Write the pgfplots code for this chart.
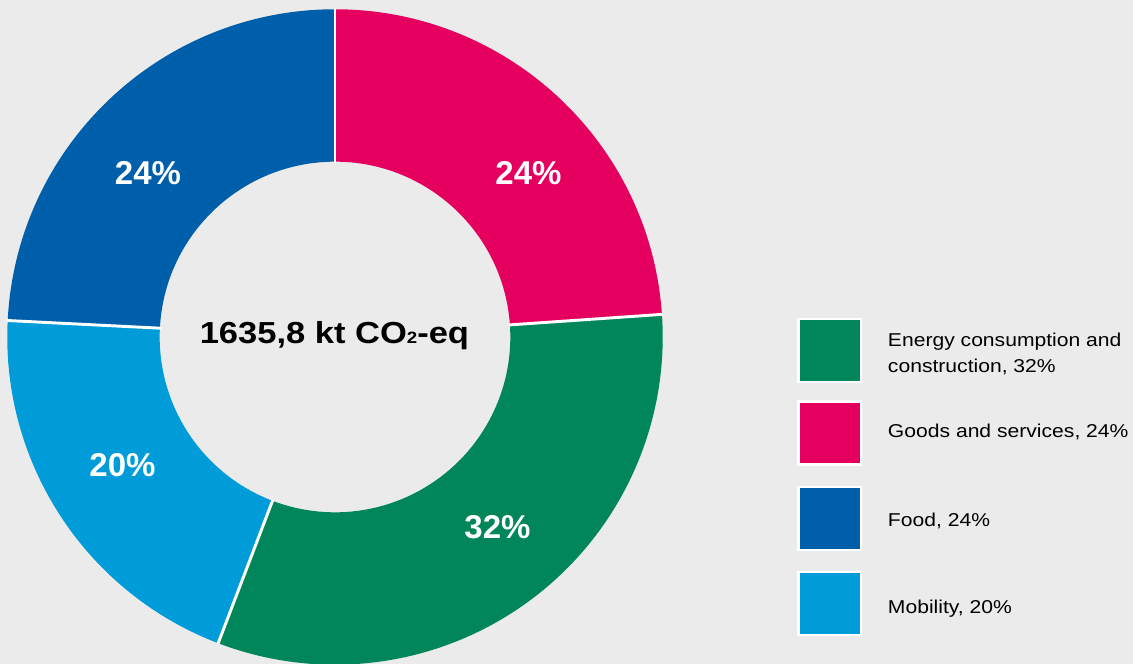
\documentclass[border=0pt]{standalone}
\usepackage{fontspec}
\setmainfont{Liberation Sans}
\newfontfamily\widefont{Liberation Sans}[FakeStretch=1.135]
\usepackage{pgfplots}
\pgfplotsset{compat=1.18}
\usepackage{pgfplotstable}
\usetikzlibrary{calc}
\definecolor{bgcol}{RGB}{235,235,235}
\definecolor{cGreen}{RGB}{0,134,90}
\definecolor{cPink}{RGB}{229,0,95}
\definecolor{cDark}{RGB}{0,95,170}
\definecolor{cLight}{RGB}{0,156,217}

% slices clockwise from 12 o'clock (shares in %)
\pgfplotstableread{
value color
23.9 cPink
31.9 cGreen
20.0 cLight
24.2 cDark
}\slices

\def\Ro{245.8pt}
\def\Ri{131.5pt}

\begin{document}
\begin{tikzpicture}
\begin{axis}[x=0.75pt,y=0.75pt,xmin=0,xmax=1133,ymin=0,ymax=664,
  hide axis, clip=true]
\fill[bgcol] (axis cs:0,0) rectangle (axis cs:1133,664);
\def\startang{90}
\pgfplotsforeachungrouped \i in {0,...,3}{%
  \pgfplotstablegetelem{\i}{value}\of\slices \let\v\pgfplotsretval
  \pgfplotstablegetelem{\i}{color}\of\slices \let\c\pgfplotsretval
  \pgfmathsetmacro\endang{\startang-3.6*\v}%
  \edef\temp{\noexpand\fill[\c] ($(axis cs:335,327)+(\startang:\Ro)$) arc[start angle=\startang, end angle=\endang, radius=\Ro] -- ($(axis cs:335,327)+(\endang:\Ri)$) arc[start angle=\endang, end angle=\startang, radius=\Ri] -- cycle;}%
  \temp
  \let\startang\endang
}
\def\startang{90}
\pgfplotsforeachungrouped \i in {0,...,3}{%
  \pgfplotstablegetelem{\i}{value}\of\slices \let\v\pgfplotsretval
  \edef\temp{\noexpand\draw[white, line width=2.2pt] ($(axis cs:335,327)+(\startang:\Ri-1pt)$) -- ($(axis cs:335,327)+(\startang:\Ro+1pt)$);}%
  \temp
  \pgfmathsetmacro\endang{\startang-3.6*\v}%
  \let\startang\endang
}
% slice labels
\node[anchor=base, text=white, font=\fontsize{24.75pt}{26pt}\selectfont\bfseries] at (axis cs:148,479.7) {24\%};
\node[anchor=base, text=white, font=\fontsize{24.75pt}{26pt}\selectfont\bfseries] at (axis cs:528.5,479.7) {24\%};
\node[anchor=base, text=white, font=\fontsize{24.75pt}{26pt}\selectfont\bfseries] at (axis cs:122.5,187) {20\%};
\node[anchor=base, text=white, font=\fontsize{24.75pt}{26pt}\selectfont\bfseries] at (axis cs:497.5,125) {32\%};
% centre label
\node[anchor=base, text=black, font=\widefont\fontsize{22.8pt}{24pt}\selectfont\bfseries, inner sep=0pt] at (axis cs:334.4,320.7) {1635,8 kt CO{\fontsize{12.3pt}{12pt}\selectfont 2}-eq};
% legend
\draw[fill=cGreen, draw=white, line width=1.8pt] (axis cs:798.5,282) rectangle (axis cs:861,345);
\draw[fill=cPink, draw=white, line width=1.8pt] (axis cs:798.5,199.5) rectangle (axis cs:861,262.5);
\draw[fill=cDark, draw=white, line width=1.8pt] (axis cs:798.5,114) rectangle (axis cs:861,177);
\draw[fill=cLight, draw=white, line width=1.8pt] (axis cs:798.5,29) rectangle (axis cs:861,92);
\tikzset{legtext/.style={anchor=base west, inner sep=0pt, text=black, font=\widefont\fontsize{13.95pt}{15pt}\selectfont}}
\node[legtext] at (axis cs:887.7,317) {Energy consumption and};
\node[legtext] at (axis cs:887.7,291) {construction, 32\%};
\node[legtext] at (axis cs:887.7,226) {Goods and services, 24\%};
\node[legtext] at (axis cs:887.7,137) {Food, 24\%};
\node[legtext] at (axis cs:887.7,50) {Mobility, 20\%};
\end{axis}
\end{tikzpicture}
\end{document}
